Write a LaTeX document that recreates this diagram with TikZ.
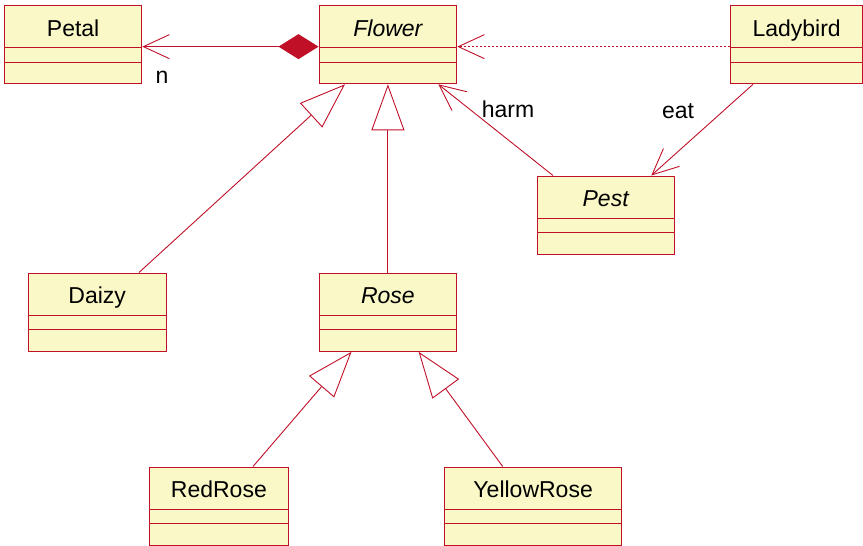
\documentclass[tikz,border=0pt]{standalone}
\usepackage{fontspec}
\setmainfont{Liberation Sans}
\usetikzlibrary{arrows.meta,calc}
\definecolor{umlred}{RGB}{192,16,40}
\definecolor{umlfill}{RGB}{250,248,198}
\tikzset{
  classbox/.style={draw=umlred, fill=umlfill, line width=1.3pt, minimum height=78pt, inner sep=0pt},
  divider/.style={draw=umlred, line width=0.9pt},
  classname/.style={font=\fontsize{23}{27}\selectfont, text=black, inner sep=0pt},
  abstract/.style={font=\fontsize{23}{27}\selectfont\itshape},
  lbl/.style={font=\fontsize{23}{27}\selectfont, text=black, inner sep=0pt, anchor=base},
  conn/.style={draw=umlred, line width=0.9pt},
  gen/.style={conn, -{Triangle[open, length=46pt, width=33pt, fill=white]}},
  assoc/.style={conn, -{Straight Barb[length=26pt, width=24pt]}},
  depend/.style={conn, dash pattern=on 2pt off 2pt, -{Straight Barb[length=26pt, width=24pt]}},
  comp/.style={conn, {Straight Barb[length=26pt, width=24pt]}-{Diamond[length=40pt, width=25pt, fill=umlred]}}
}
\newcommand{\umlclass}[6][]{%
  \node[classbox, minimum width=#5pt, anchor=north west] (#2) at (#3,#4) {};
  \node[classname, #1, anchor=base] (#2-name) at ([yshift=-31pt]#2.north) {#6};
  \draw[divider] ([yshift=-42.5pt]#2.north west) -- ([yshift=-42.5pt]#2.north east);
  \draw[divider] ([yshift=-57pt]#2.north west) -- ([yshift=-57pt]#2.north east);
}
\begin{document}
\begin{tikzpicture}[x=1pt, y=-1pt]
\useasboundingbox (0,0) rectangle (863,546);
\umlclass{petal}{4}{5}{137}{Petal}
\umlclass[abstract]{flower}{318.5}{5}{137.5}{Flower}
\umlclass{ladybird}{730}{5}{132}{Ladybird}
\umlclass[abstract]{pest}{536.5}{175.5}{137}{Pest}
\umlclass{daizy}{27.5}{272.5}{138}{Daizy}
\umlclass[abstract]{rose}{318.5}{272.5}{137.5}{Rose}
\umlclass{redrose}{148.5}{466.5}{139.5}{RedRose}
\umlclass{yellowrose}{444}{466.5}{177}{YellowRose}

% composition Flower <>-- Petal
\draw[comp] ([yshift=-2pt]petal.east) -- ([yshift=-2pt]flower.west);
\node[lbl] (nlabel) at (162,83) {n};

% dependency Ladybird ..> Flower
\draw[depend] ([yshift=-2pt]ladybird.west) -- ([yshift=-2pt]flower.east);

% association Pest -> Flower (harm)
\draw[assoc] ($(pest.north west)+(16.5,0)$) -- ($(flower.south east)+(-19,0)$);
\node[lbl] (harmlabel) at (508,117) {harm};

% association Ladybird -> Pest (eat)
\draw[assoc] ($(ladybird.south west)+(23,0)$) -- ($(pest.north east)+(-23.5,0)$);
\node[lbl] (eatlabel) at (678,118.5) {eat};

% generalizations
\draw[gen] ($(daizy.north west)+(111.5,0)$) -- ($(flower.south west)+(26.5,0)$);
\draw[gen] (rose.north) -- (flower.south);
\draw[gen] ($(redrose.north west)+(104.5,0)$) -- ($(rose.south west)+(33,0)$);
\draw[gen] ($(yellowrose.north west)+(58.7,0)$) -- ($(rose.south east)+(-38.7,0)$);
\end{tikzpicture}
\end{document}
